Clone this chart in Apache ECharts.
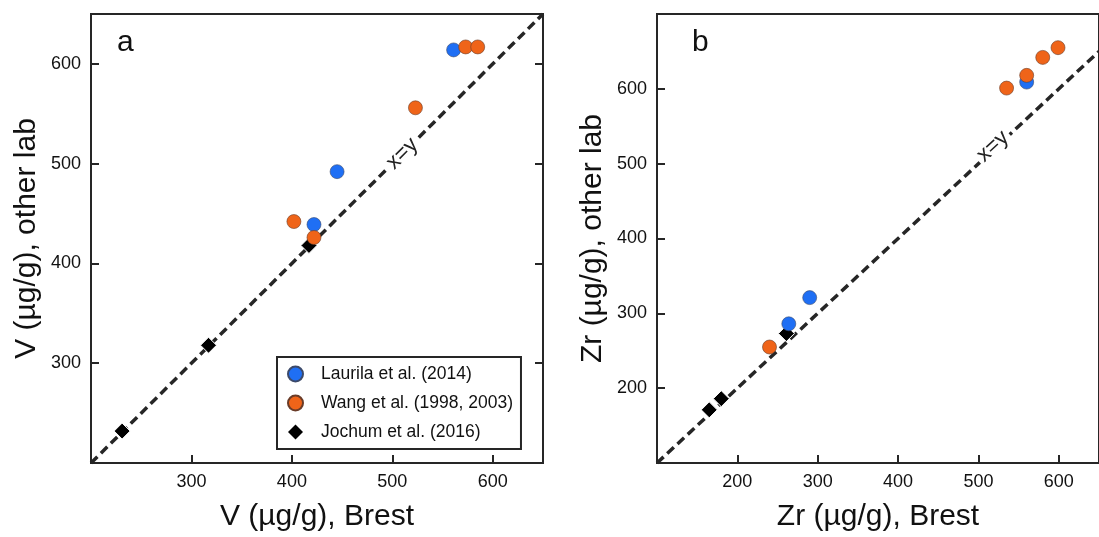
<!DOCTYPE html>
<html>
<head>
<meta charset="utf-8">
<script src="https://cdn.jsdelivr.net/npm/echarts@6/dist/echarts.min.js"></script>
<style>
html,body{margin:0;padding:0;background:#fff;}
#chart{width:1099px;height:537px;}
</style>
</head>
<body>
<div id="chart"></div>
<script>
// ---- Data ----
var seriesNames = ['Laurila et al. (2014)', 'Wang et al. (1998, 2003)', 'Jochum et al. (2016)'];
// Panel a: V (µg/g), [Brest, other lab]
var vLaurila = [[561, 614], [445, 492], [422, 439]];
var vWang = [[573, 617], [585, 617], [523, 556], [402, 442], [422, 426]];
var vJochum = [[417, 418], [317, 318], [231, 232]];
// Panel b: Zr (µg/g), [Brest, other lab]
var zrLaurila = [[560, 609], [290, 321], [264, 286]];
var zrWang = [[535, 601], [560, 618], [580, 642], [599, 655], [240, 255]];
var zrJochum = [[261, 273], [180, 186], [165, 171]];
// 1:1 reference lines
var lineA = [[200, 200], [650, 650]];
var lineB = [[100, 100], [650, 650]];
var lineLabelA = [[510, 510]];
var lineLabelB = [[518, 523]];
// Axis ranges
var axA = {min: 200, max: 650, interval: 100};
var axBx = {min: 100, max: 650, interval: 100};
var axBy = {min: 100, max: 700, interval: 100};

var FONT = 'Liberation Sans, Arial, sans-serif';
var DARK = '#262626';
var BLUE = '#1f6ff4';
var ORANGE = '#ef6419';

function valAxis(gridIndex, r, name, extra) {
  var a = {
    type: 'value', gridIndex: gridIndex,
    min: r.min, max: r.max, interval: r.interval,
    name: name, nameLocation: 'middle',
    nameTextStyle: {fontFamily: FONT, fontSize: 30, color: '#111'},
    axisLine: {show: false},
    axisTick: {show: true, inside: true, length: 8, lineStyle: {color: DARK, width: 2}},
    axisLabel: {show: true, fontFamily: FONT, fontSize: 18, color: '#111', margin: 10,
                showMinLabel: false, showMaxLabel: false},
    splitLine: {show: false}
  };
  for (var k in extra) a[k] = extra[k];
  return a;
}

function panelSeries(xi, yi, laur, wang, joch, line, lbl, rot) {
  return [
    {type: 'line', xAxisIndex: xi, yAxisIndex: yi, data: line, symbol: 'none', silent: true,
     lineStyle: {color: DARK, width: 3.5, type: [9, 5]}, z: 1},
    {type: 'scatter', xAxisIndex: xi, yAxisIndex: yi, data: lbl, symbolSize: 0, silent: true, z: 2,
     itemStyle: {opacity: 1},
     label: {show: true, position: 'inside', formatter: 'x=y', rotate: rot, fontFamily: FONT,
             fontSize: 22, color: '#222', opacity: 1, backgroundColor: '#fff', padding: [0, 3]}},
    {name: seriesNames[0], type: 'scatter', xAxisIndex: xi, yAxisIndex: yi, data: laur,
     symbol: 'circle', symbolSize: 14,
     itemStyle: {color: BLUE, borderColor: '#3c4a6a', borderWidth: 0.6, opacity: 1}, z: 4},
    {name: seriesNames[1], type: 'scatter', xAxisIndex: xi, yAxisIndex: yi, data: wang,
     symbol: 'circle', symbolSize: 14,
     itemStyle: {color: ORANGE, borderColor: '#6a3c28', borderWidth: 0.6, opacity: 1}, z: 4},
    {name: seriesNames[2], type: 'scatter', xAxisIndex: xi, yAxisIndex: yi, data: joch,
     symbol: 'diamond', symbolSize: 16,
     itemStyle: {color: '#000', borderColor: '#fff', borderWidth: 1, opacity: 1}, z: 3}
  ];
}

var option = {
  animation: false,
  backgroundColor: '#fff',
  textStyle: {fontFamily: FONT},
  grid: [
    {left: 91, top: 14, width: 452, height: 452, show: true, borderColor: DARK, borderWidth: 2, backgroundColor: 'transparent'},
    {left: 657, top: 14, width: 450, height: 452, show: true, borderColor: DARK, borderWidth: 2, backgroundColor: 'transparent'}
  ],
  xAxis: [
    valAxis(0, axA, 'V (µg/g), Brest', {nameGap: 39}),
    valAxis(1, axBx, 'Zr (µg/g), Brest', {nameGap: 39})
  ],
  yAxis: [
    valAxis(0, axA, 'V (µg/g), other lab', {nameGap: 49}),
    valAxis(0, axA, '', {position: 'right', axisLabel: {show: false}}),
    valAxis(1, axBy, 'Zr (µg/g), other lab', {nameGap: 49})
  ],
  legend: {
    left: 277, top: 357,
    orient: 'vertical',
    data: [
      {name: seriesNames[0], icon: 'circle', itemStyle: {color: BLUE}},
      {name: seriesNames[1], icon: 'circle', itemStyle: {color: ORANGE}},
      {name: seriesNames[2], icon: 'diamond', itemStyle: {color: '#000', borderWidth: 0}}
    ],
    itemWidth: 15, itemHeight: 15, itemGap: 11,
    padding: [8, 8, 8, 10],
    borderColor: DARK, borderWidth: 2, backgroundColor: '#fff',
    textStyle: {fontFamily: FONT, fontSize: 17.5, color: '#111', padding: [0, 0, 0, 13]},
    selectedMode: false
  },
  graphic: [
    {type: 'text', left: 117, top: 28, style: {text: 'a', font: '30px ' + FONT, fill: '#111'}},
    {type: 'text', left: 692, top: 28, style: {text: 'b', font: '30px ' + FONT, fill: '#111'}}
  ],
  series: [].concat(
    panelSeries(0, 0, vLaurila, vWang, vJochum, lineA, lineLabelA, 45),
    panelSeries(1, 2, zrLaurila, zrWang, zrJochum, lineB, lineLabelB, 42.6)
  )
};

var chart = echarts.init(document.getElementById('chart'), null, {renderer: 'canvas'});
chart.setOption(option);
</script>
</body>
</html>
